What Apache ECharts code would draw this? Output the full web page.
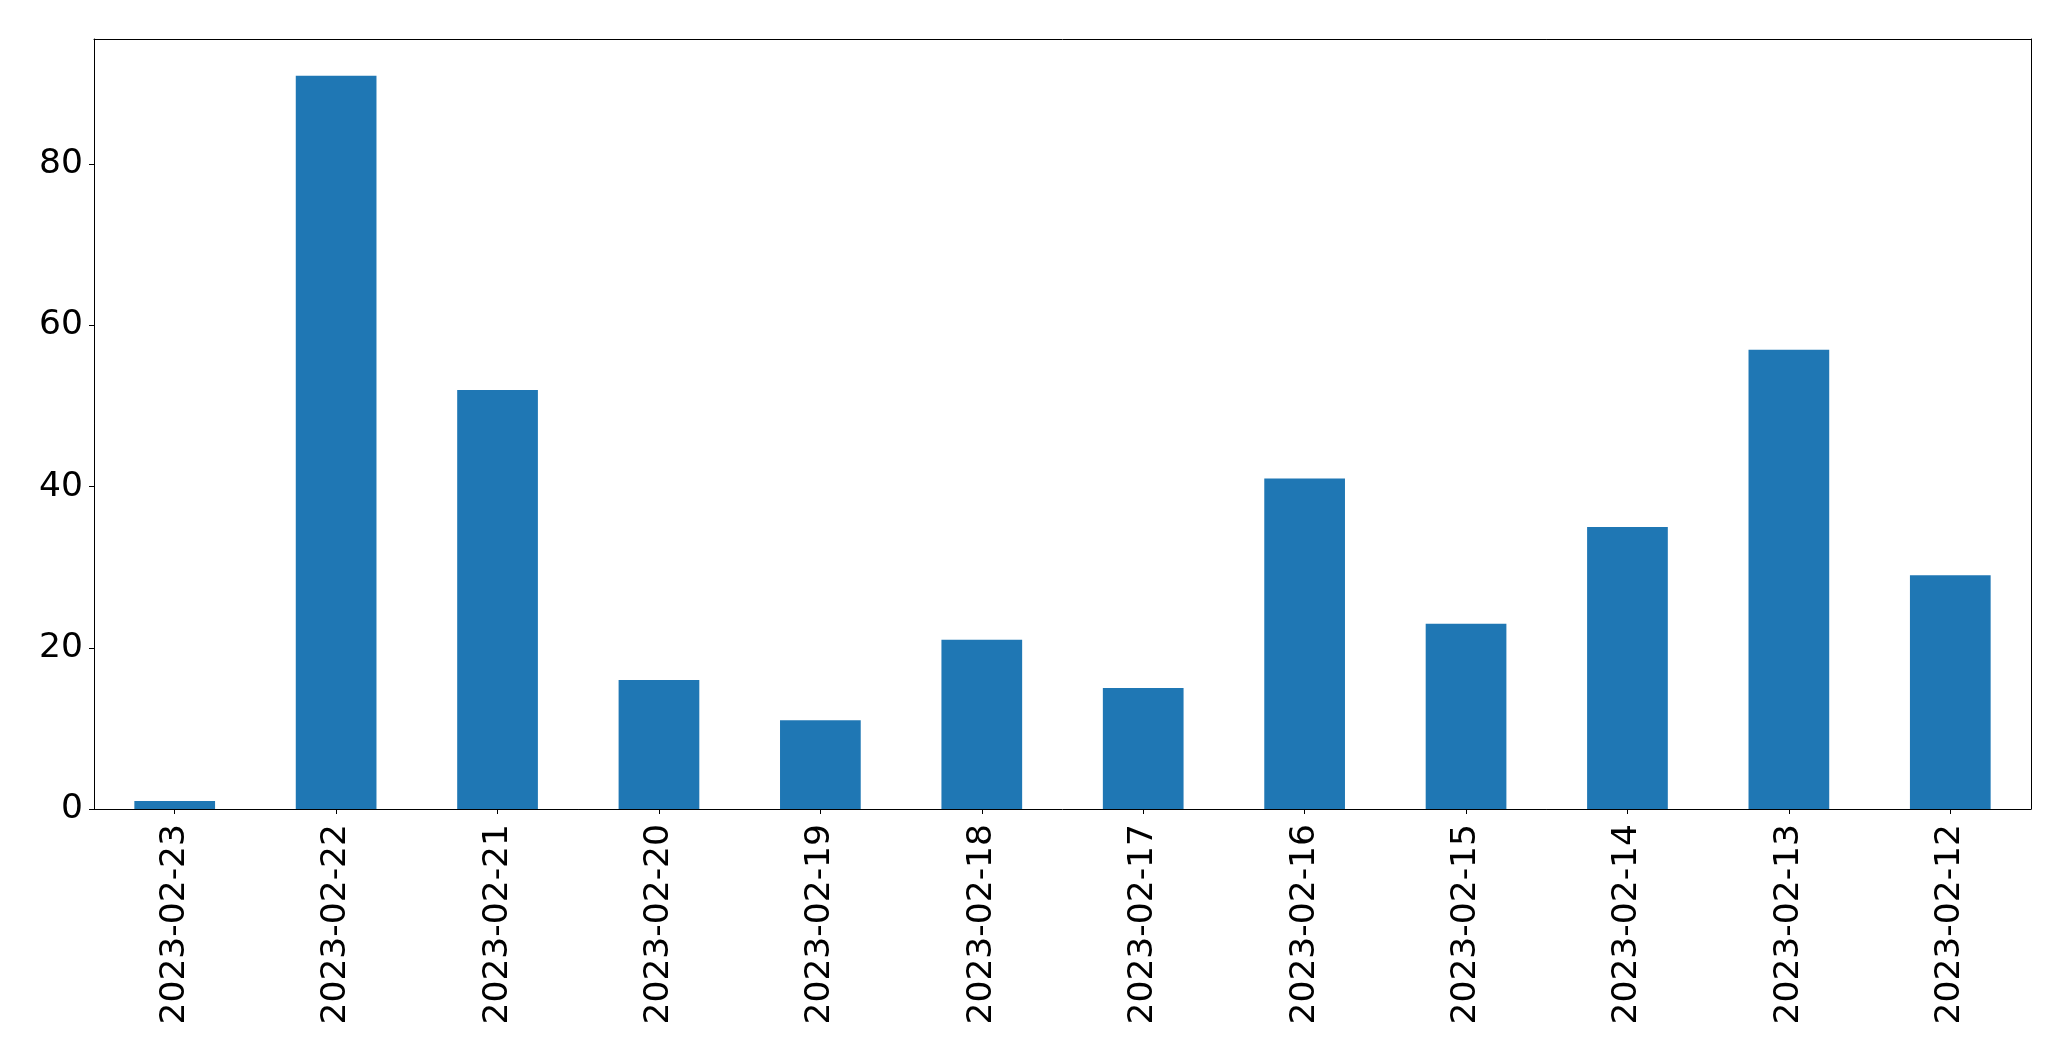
<!DOCTYPE html>
<html>
<head>
<meta charset="utf-8">
<script src="https://cdn.jsdelivr.net/npm/echarts@6/dist/echarts.min.js"></script>
<style>
html,body{margin:0;padding:0;background:#fff;}
#chart{width:2071px;height:1061px;}
</style>
</head>
<body>
<div id="chart"></div>
<script>
const categories = ['2023-02-23','2023-02-22','2023-02-21','2023-02-20','2023-02-19','2023-02-18','2023-02-17','2023-02-16','2023-02-15','2023-02-14','2023-02-13','2023-02-12'];
const values = [1, 91, 52, 16, 11, 21, 15, 41, 23, 35, 57, 29];
const yTicks = [0, 20, 40, 60, 80];

const chart = echarts.init(document.getElementById('chart'), null, {renderer: 'canvas'});
const font = 'DejaVu Sans';
const fs = 34.5;
const line = {color: '#000', width: 1};
chart.setOption({
  animation: false,
  backgroundColor: '#ffffff',
  grid: {left: 94, right: 40, top: 39, bottom: 252, show: false},
  xAxis: [{
    type: 'category',
    data: categories,
    boundaryGap: true,
    axisLine: {show: true, onZero: false, lineStyle: line},
    axisTick: {show: true, alignWithLabel: true, length: 5, lineStyle: line},
    axisLabel: {rotate: 90, margin: 15, fontFamily: font, fontSize: fs, color: '#000', interval: 0},
    splitLine: {show: false}
  }, {
    type: 'category',
    position: 'top',
    data: categories,
    axisLine: {show: true, onZero: false, lineStyle: line},
    axisTick: {show: false},
    axisLabel: {show: false},
    splitLine: {show: false}
  }],
  yAxis: [{
    type: 'value',
    min: 0,
    max: 95.55,
    interval: 20,
    axisLine: {show: true, onZero: false, lineStyle: line},
    axisTick: {show: true, length: 5, lineStyle: line},
    axisLabel: {
      margin: 11, fontFamily: font, fontSize: fs, color: '#000',
      showMaxLabel: false,
      formatter: function (v) { return yTicks.indexOf(v) >= 0 ? String(v) : ''; }
    },
    splitLine: {show: false}
  }, {
    type: 'value',
    position: 'right',
    min: 0,
    max: 95.55,
    axisLine: {show: true, onZero: false, lineStyle: line},
    axisTick: {show: false},
    axisLabel: {show: false},
    splitLine: {show: false}
  }],
  series: [{
    type: 'bar',
    xAxisIndex: 0,
    yAxisIndex: 0,
    data: values,
    barWidth: '50%',
    itemStyle: {color: '#1f77b4'}
  }]
});
</script>
</body>
</html>
